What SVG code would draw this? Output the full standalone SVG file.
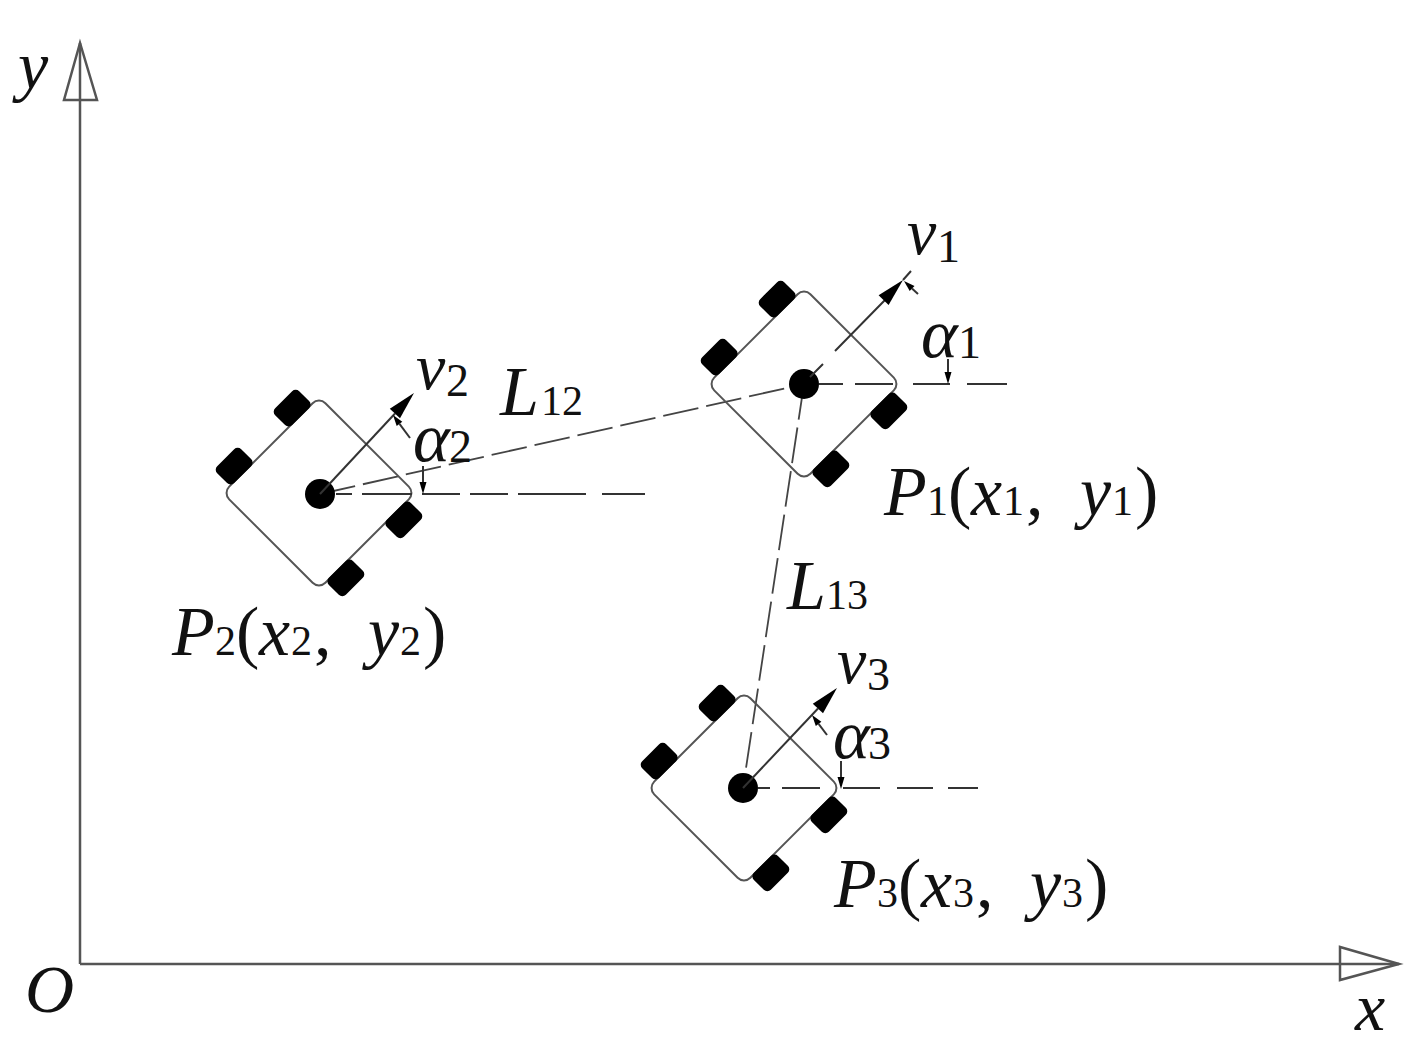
<svg xmlns="http://www.w3.org/2000/svg" width="1419" height="1064" viewBox="0 0 1419 1064">
<style>
.axis{stroke:#555;stroke-width:2.5;fill:none}
.ahead{stroke:#555;stroke-width:2.5;fill:#fff;stroke-linejoin:miter}
.body{stroke:#555;stroke-width:2;fill:none}
.wheel{fill:#000}
.dot{fill:#000}
.vline{stroke:#333;stroke-width:2;fill:none}
.dash{stroke:#333;stroke-width:1.8;fill:none}
.ldash{stroke:#444;stroke-width:1.8;fill:none;stroke-dasharray:36 8}
.blk{fill:#000}
text{font-family:"Liberation Serif","Times New Roman",serif;fill:#111}
.it{font-style:italic;font-size:70px}
.sub{font-style:normal;font-size:42px}
.sv{font-style:normal;font-size:46px}
.ax{font-style:italic;font-size:68px}
.ps{font-style:normal;font-size:70px}
</style>
<rect width="1419" height="1064" fill="#fff"/>

<g id="axes">
  <path class="axis" d="M80 964 V43 M80 964 H1399"/>
  <polygon class="ahead" points="80,43 64,100 97,100"/>
  <polygon class="ahead" points="1399,964 1340,947 1340,980"/>
  <line class="axis" x1="80" y1="100" x2="80" y2="45"/>
  <line class="axis" x1="1340" y1="964" x2="1397" y2="964"/>
  <text class="ax" x="18" y="89">y</text>
  <text class="ax" x="25" y="1012">O</text>
  <text class="ax" x="1355" y="1030">x</text>
</g>

<g id="connectors">
  <line id="L12" class="ldash" x1="320" y1="494" x2="804" y2="384"/>
  <line id="L13" class="ldash" x1="804" y1="384" x2="743" y2="788"/>
  <text class="it" x="500" y="415">L</text><text class="sub" x="541" y="415">12</text>
  <text class="it" x="787" y="609">L</text><text class="sub" x="826" y="609">13</text>
</g>

<g id="robot1">
  <g transform="translate(804,384) rotate(45)">
    <rect class="body" x="-68" y="-68" width="136" height="136" rx="9"/>
    <rect class="wheel" x="-91" y="-58" width="24" height="34" rx="5"/>
    <rect class="wheel" x="-91" y="24" width="24" height="34" rx="5"/>
    <rect class="wheel" x="67" y="-58" width="24" height="34" rx="5"/>
    <rect class="wheel" x="67" y="24" width="24" height="34" rx="5"/>
  </g>
  <path class="dash" d="M819 384 H843 M855 384 H893 M913 384 H950 M967 384 H1007"/>
  <circle class="dot" cx="804" cy="384" r="15"/>
  <path class="vline" d="M810 377 L823 364 M835 351 L885 300 M903 280 L911 271"/>
  <polygon class="blk" points="903,280 888.6,305.1 878.6,295.3"/>
  <polygon class="blk" points="904,281 909.7,291.1 914.5,285.9"/>
  <line class="vline" x1="912" y1="288.5" x2="918" y2="294" stroke-width="1.6"/>
  <line class="vline" x1="948" y1="359" x2="948" y2="373" stroke-width="1.6"/>
  <polygon class="blk" points="948,384 944.5,372 951.5,372"/>
  <text class="it" x="907" y="254" style="font-size:66px">v</text><text class="sv" x="937" y="262">1</text>
  <text class="it" x="921" y="357">α</text><text class="sv" x="958" y="358">1</text>
  <text y="515"><tspan class="it" x="884">P</tspan><tspan class="sub" x="927">1</tspan><tspan class="ps" x="948">(</tspan><tspan class="it" x="971">x</tspan><tspan class="sub" x="1003">1</tspan><tspan class="ps" x="1026">,</tspan><tspan class="it" x="1080">y</tspan><tspan class="sub" x="1112">1</tspan><tspan class="ps" x="1135">)</tspan></text>
</g>

<g id="robot2">
  <g transform="translate(319,493) rotate(45)">
    <rect class="body" x="-68" y="-68" width="136" height="136" rx="9"/>
    <rect class="wheel" x="-91" y="-58" width="24" height="34" rx="5"/>
    <rect class="wheel" x="-91" y="24" width="24" height="34" rx="5"/>
    <rect class="wheel" x="67" y="-58" width="24" height="34" rx="5"/>
    <rect class="wheel" x="67" y="24" width="24" height="34" rx="5"/>
  </g>
  <path class="dash" d="M336 494 H352 M362 494 H412 M422 494 H460 M470 494 H508 M518 494 H586 M602 494 H645"/>
  <circle class="dot" cx="320" cy="494" r="15"/>
  <line class="vline" x1="320" y1="494" x2="395" y2="413.5"/>
  <polygon class="blk" points="414,393 400,418.3 389.8,408.7"/>
  <polygon class="blk" points="393,415 396.7,425.9 402.3,421.7"/>
  <line class="vline" x1="399.5" y1="423.8" x2="410" y2="438" stroke-width="1.6"/>
  <line class="vline" x1="423" y1="466" x2="423" y2="483" stroke-width="1.6"/>
  <polygon class="blk" points="423,494 419.5,482 426.5,482"/>
  <text class="it" x="416" y="389" style="font-size:66px">v</text><text class="sv" x="446" y="396">2</text>
  <text class="it" x="413" y="461">α</text><text class="sv" x="449" y="462">2</text>
  <text y="655"><tspan class="it" x="172">P</tspan><tspan class="sub" x="215">2</tspan><tspan class="ps" x="236">(</tspan><tspan class="it" x="259">x</tspan><tspan class="sub" x="291">2</tspan><tspan class="ps" x="314">,</tspan><tspan class="it" x="368">y</tspan><tspan class="sub" x="400">2</tspan><tspan class="ps" x="423">)</tspan></text>
</g>

<g id="robot3">
  <g transform="translate(744,788) rotate(45)">
    <rect class="body" x="-68" y="-68" width="136" height="136" rx="9"/>
    <rect class="wheel" x="-91" y="-58" width="24" height="34" rx="5"/>
    <rect class="wheel" x="-91" y="24" width="24" height="34" rx="5"/>
    <rect class="wheel" x="67" y="-58" width="24" height="34" rx="5"/>
    <rect class="wheel" x="67" y="24" width="24" height="34" rx="5"/>
  </g>
  <path class="dash" d="M758 788 H770 M782 788 H820 M843 788 H880 M897 788 H933 M948 788 H978"/>
  <circle class="dot" cx="743" cy="788" r="15"/>
  <line class="vline" x1="743" y1="788" x2="818" y2="708.5"/>
  <polygon class="blk" points="837,688 823,713.3 812.8,703.7"/>
  <polygon class="blk" points="812,715 815.8,725.9 821.4,721.7"/>
  <line class="vline" x1="818.6" y1="723.8" x2="827" y2="735" stroke-width="1.6"/>
  <line class="vline" x1="841" y1="761" x2="841" y2="778" stroke-width="1.6"/>
  <polygon class="blk" points="841,789 837.5,777 844.5,777"/>
  <text class="it" x="837" y="683" style="font-size:66px">v</text><text class="sv" x="867" y="690">3</text>
  <text class="it" x="833" y="758">α</text><text class="sv" x="868" y="759">3</text>
  <text y="907"><tspan class="it" x="834">P</tspan><tspan class="sub" x="877">3</tspan><tspan class="ps" x="898">(</tspan><tspan class="it" x="921">x</tspan><tspan class="sub" x="953">3</tspan><tspan class="ps" x="976">,</tspan><tspan class="it" x="1030">y</tspan><tspan class="sub" x="1062">3</tspan><tspan class="ps" x="1085">)</tspan></text>
</g>
</svg>
